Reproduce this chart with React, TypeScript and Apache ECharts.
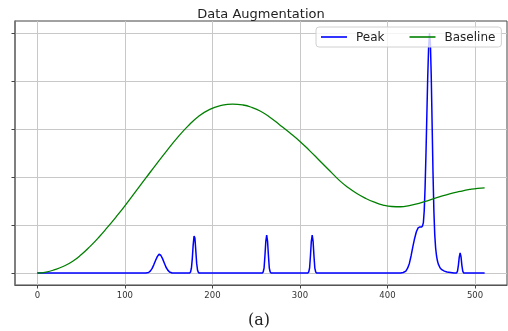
import React, { useEffect, useRef } from "react";
import * as echarts from "echarts";

const peakX = [0, 124, 127, 129, 131, 133, 135, 137, 139, 141, 143, 145, 147, 149, 151, 154,
  174, 175, 176, 177, 178, 179, 180, 181, 182, 183, 184, 185,
  257, 258, 259, 260, 261, 262, 263, 264, 265, 266, 267,
  309, 310, 311, 312, 313, 314, 315, 316, 317, 318, 319,
  415, 418, 421, 423, 425, 427, 429, 431, 433, 435, 437, 439, 440, 441, 442, 443, 444, 445, 446, 447, 448, 449, 450, 451, 452, 453, 454, 455, 456, 457, 458, 460, 462, 465, 468, 472, 476,
  479, 480, 481, 482, 483, 484, 485, 486, 487, 511];
const peakY = [0, 0, 0.01, 0.04, 0.09, 0.17, 0.26, 0.34, 0.39, 0.37, 0.3, 0.21, 0.12, 0.06, 0.02, 0,
  0, 0.02, 0.1, 0.3, 0.58, 0.77, 0.73, 0.47, 0.2, 0.06, 0.01, 0,
  0, 0.02, 0.1, 0.36, 0.66, 0.79, 0.66, 0.36, 0.1, 0.02, 0,
  0, 0.02, 0.1, 0.36, 0.66, 0.79, 0.66, 0.36, 0.1, 0.02, 0,
  0, 0.01, 0.04, 0.1, 0.2, 0.36, 0.55, 0.72, 0.86, 0.94, 0.96, 0.96, 0.98, 1.05, 1.3, 1.8, 2.5, 3.3, 4.1, 4.7, 5.0, 4.8, 4.1, 3.1, 2.1, 1.3, 0.8, 0.52, 0.36, 0.26, 0.19, 0.11, 0.07, 0.04, 0.02, 0.01, 0,
  0, 0.04, 0.16, 0.33, 0.42, 0.34, 0.16, 0.04, 0, 0];

const baseX = [0, 10, 20, 30, 40, 50, 60, 70, 80, 90, 100, 112, 124, 136, 148, 160, 172, 184, 197, 210, 223, 235, 245, 255, 266, 277, 288, 300, 311, 322, 334, 345, 355, 365, 375, 385, 395, 405, 415, 425, 436, 448, 460, 471, 483, 494, 503, 511];
const baseY = [0, 0.02, 0.07, 0.14, 0.24, 0.38, 0.55, 0.74, 0.95, 1.17, 1.4, 1.69, 1.98, 2.27, 2.55, 2.82, 3.06, 3.26, 3.41, 3.49, 3.52, 3.5, 3.45, 3.37, 3.24, 3.085, 2.925, 2.74, 2.55, 2.35, 2.13, 1.93, 1.78, 1.655, 1.555, 1.475, 1.415, 1.385, 1.38, 1.405, 1.45, 1.52, 1.59, 1.65, 1.7, 1.74, 1.765, 1.775];

const xTickValues = [0, 100, 200, 300, 400, 500];
const yTickValues = [0, 1, 2, 3, 4, 5];
const seriesNames = ["Peak", "Baseline"];
const titleText = "Data Augmentation";
const captionText = "(a)";

export default function App() {
  const ref = useRef<HTMLDivElement>(null);
  useEffect(() => {
    if (!ref.current) return;
    const chart = echarts.init(ref.current, null, { renderer: "svg" });
    const peakData = peakX.map((x, i) => [x, peakY[i]]);
    const baseData = baseX.map((x, i) => [x, baseY[i]]);
    chart.setOption({
      animation: false,
      textStyle: { fontFamily: "DejaVu Sans" },
      grid: {
        left: 15, right: 1, top: 21, bottom: 46,
        show: true, borderColor: "#444", borderWidth: 1, backgroundColor: "transparent",
      },
      legend: {
        left: 316, top: 27,
        orient: "horizontal",
        padding: [4, 6, 4, 5],
        itemGap: 25,
        itemWidth: 26, itemHeight: 1.6,
        icon: "rect",
        backgroundColor: "rgba(255,255,255,0.8)",
        borderColor: "#d0d0d0", borderWidth: 1, borderRadius: 3,
        textStyle: { fontSize: 12, color: "#222", fontFamily: "DejaVu Sans", padding: [0, 0, 0, 4] },
        data: seriesNames,
      },
      graphic: [
        {
          type: "text", x: 261, y: 13,
          style: { text: titleText, fontSize: 13, fontFamily: "DejaVu Sans", fill: "#222", textAlign: "center", textVerticalAlign: "middle" },
        },
        {
          type: "text", x: 259, y: 319,
          style: { text: captionText, fontSize: 16, fontFamily: "DejaVu Serif", fill: "#222", textAlign: "center", textVerticalAlign: "middle" },
        },
      ],
      xAxis: {
        type: "value", min: -25.55, max: 536.55, splitNumber: 5,
        axisLine: { show: true, onZero: false, lineStyle: { color: "#555", width: 1.2 } },
        axisTick: { show: true, length: 3.5, customValues: xTickValues, lineStyle: { color: "#444" } },
        axisLabel: { fontSize: 8.5, color: "#333", margin: 5, customValues: xTickValues },
        splitLine: { show: true, lineStyle: { color: "#c8c8c8", width: 1 } },
      },
      yAxis: {
        type: "value", min: -0.25, max: 5.25, splitNumber: 5,
        axisLine: { show: true, onZero: false, lineStyle: { color: "#777", width: 1.6 } },
        axisTick: { show: true, length: 3.5, customValues: yTickValues, lineStyle: { color: "#444" } },
        axisLabel: { show: false },
        splitLine: { show: true, lineStyle: { color: "#c8c8c8", width: 1 } },
      },
      series: [
        {
          name: seriesNames[0], type: "line", data: peakData, showSymbol: false, symbol: "none",
          lineStyle: { color: "#0000ff", width: 1.5 }, itemStyle: { color: "#0000ff" },
        },
        {
          name: seriesNames[1], type: "line", data: baseData, showSymbol: false, symbol: "none",
          smooth: 0.5,
          lineStyle: { color: "#008000", width: 1.3 }, itemStyle: { color: "#008000" },
        },
      ],
    });
    return () => chart.dispose();
  }, []);
  return <div ref={ref} style={{ position: "fixed", left: 0, top: 0, width: 508, height: 331 }} />;
}
